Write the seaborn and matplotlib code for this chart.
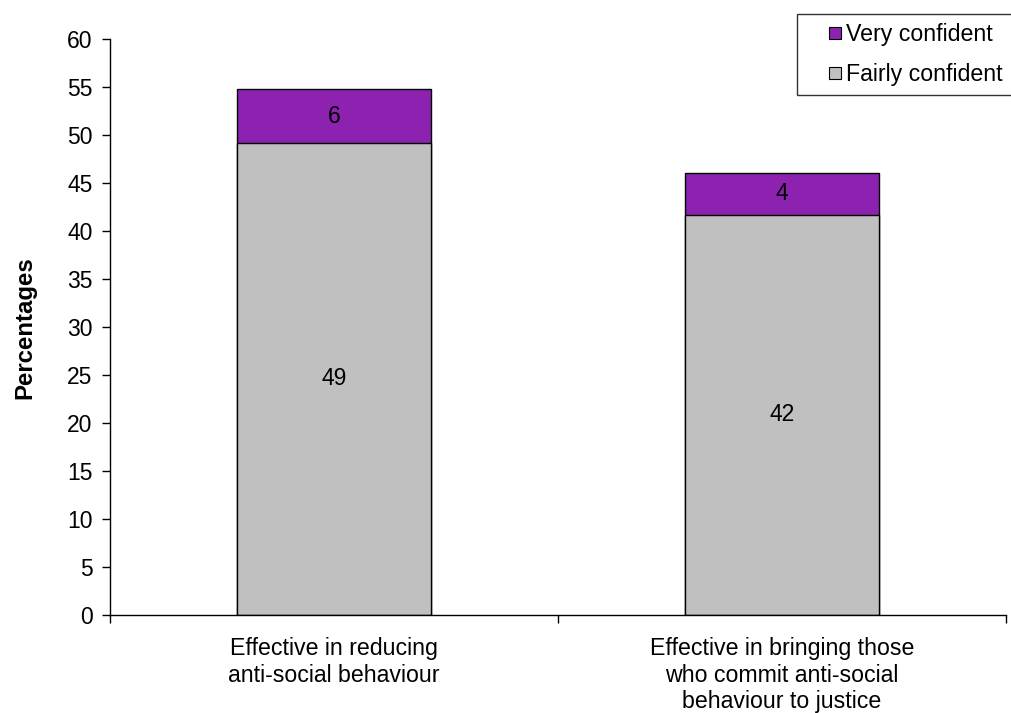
import matplotlib
matplotlib.use("Agg")
import matplotlib.pyplot as plt
import seaborn as sns
import pandas as pd
import numpy as np
from matplotlib.lines import Line2D
from matplotlib.legend_handler import HandlerLine2D

categories = ["Effective in reducing\nanti-social behaviour",
              "Effective in bringing those\nwho commit anti-social\nbehaviour to justice"]
fairly = [49.2, 41.7]
very = [5.6, 4.4]
series_names = ["Very confident", "Fairly confident"]
yticks = list(range(0, 61, 5))

purple = "#8E22B0"
grey = "#C0C0C0"

sns.set_style("white")
plt.rcParams['font.family'] = ['Liberation Sans', 'DejaVu Sans']
plt.rcParams['text.color'] = 'black'
plt.rcParams['axes.labelcolor'] = 'black'
plt.rcParams['xtick.color'] = 'black'
plt.rcParams['ytick.color'] = 'black'

df = pd.DataFrame({"cat": categories, "fairly": fairly, "very": very})
df["total"] = df["fairly"] + df["very"]

fig = plt.figure(figsize=(10.12, 7.13), dpi=100)
ax = fig.add_axes([0.1087, 0.1374, 0.994 - 0.1087, 0.9449 - 0.1374])

sns.barplot(data=df, x="cat", y="total", color=purple, width=0.435,
            edgecolor="black", linewidth=1.0, saturation=1, ax=ax)
sns.barplot(data=df, x="cat", y="fairly", color=grey, width=0.435,
            edgecolor="black", linewidth=1.0, saturation=1, ax=ax)

for i, (f, v) in enumerate(zip(fairly, very)):
    ax.text(i, f / 2, f"{f:.0f}", ha="center", va="center", fontsize=16.5, color="black")
    ax.text(i, f + v / 2, f"{v:.0f}", ha="center", va="center", fontsize=16.5, color="black")

ax.set_xlim(-0.5, len(categories) - 0.5)
ax.set_ylim(0, 60)
ax.set_yticks(yticks)
ax.set_yticklabels([str(t) for t in yticks], fontsize=16.5)
ax.set_xticks(range(len(categories)))
ax.set_xticklabels(categories, fontsize=16.7, linespacing=1.2)
ax.set_xticks(np.arange(-0.5, len(categories), 1.0), minor=True)
ax.tick_params(axis="x", which="major", length=0, pad=16)
ax.tick_params(axis="x", which="minor", length=6, width=1, direction="out", bottom=True)
ax.tick_params(axis="y", which="major", length=6, width=1, direction="out", left=True, pad=6.5)
ax.set_xlabel("")
ax.set_ylabel("Percentages", fontsize=17.3, fontweight="bold", labelpad=22)

for s in ["top", "right"]:
    ax.spines[s].set_visible(False)
for s in ["left", "bottom"]:
    ax.spines[s].set_color("black")
    ax.spines[s].set_linewidth(1)

handles = [Line2D([0], [0], marker="s", linestyle="none", markersize=8,
                  markerfacecolor=purple, markeredgecolor="black", markeredgewidth=0.8),
           Line2D([0], [0], marker="s", linestyle="none", markersize=8,
                  markerfacecolor=grey, markeredgecolor="black", markeredgewidth=0.8)]
leg = fig.legend(handles, series_names, loc="upper right",
                 bbox_to_anchor=(1.0, 1 - 14 / 713), fontsize=16.7,
                 frameon=True, fancybox=False, handlelength=1.4, handletextpad=0.3,
                 borderpad=0.4, labelspacing=0.71, borderaxespad=0,
                 handler_map={Line2D: HandlerLine2D(numpoints=1, xpad=1.0)})
leg.get_frame().set_edgecolor("black")
leg.get_frame().set_linewidth(1)

fig.savefig("out.png", dpi=100)
